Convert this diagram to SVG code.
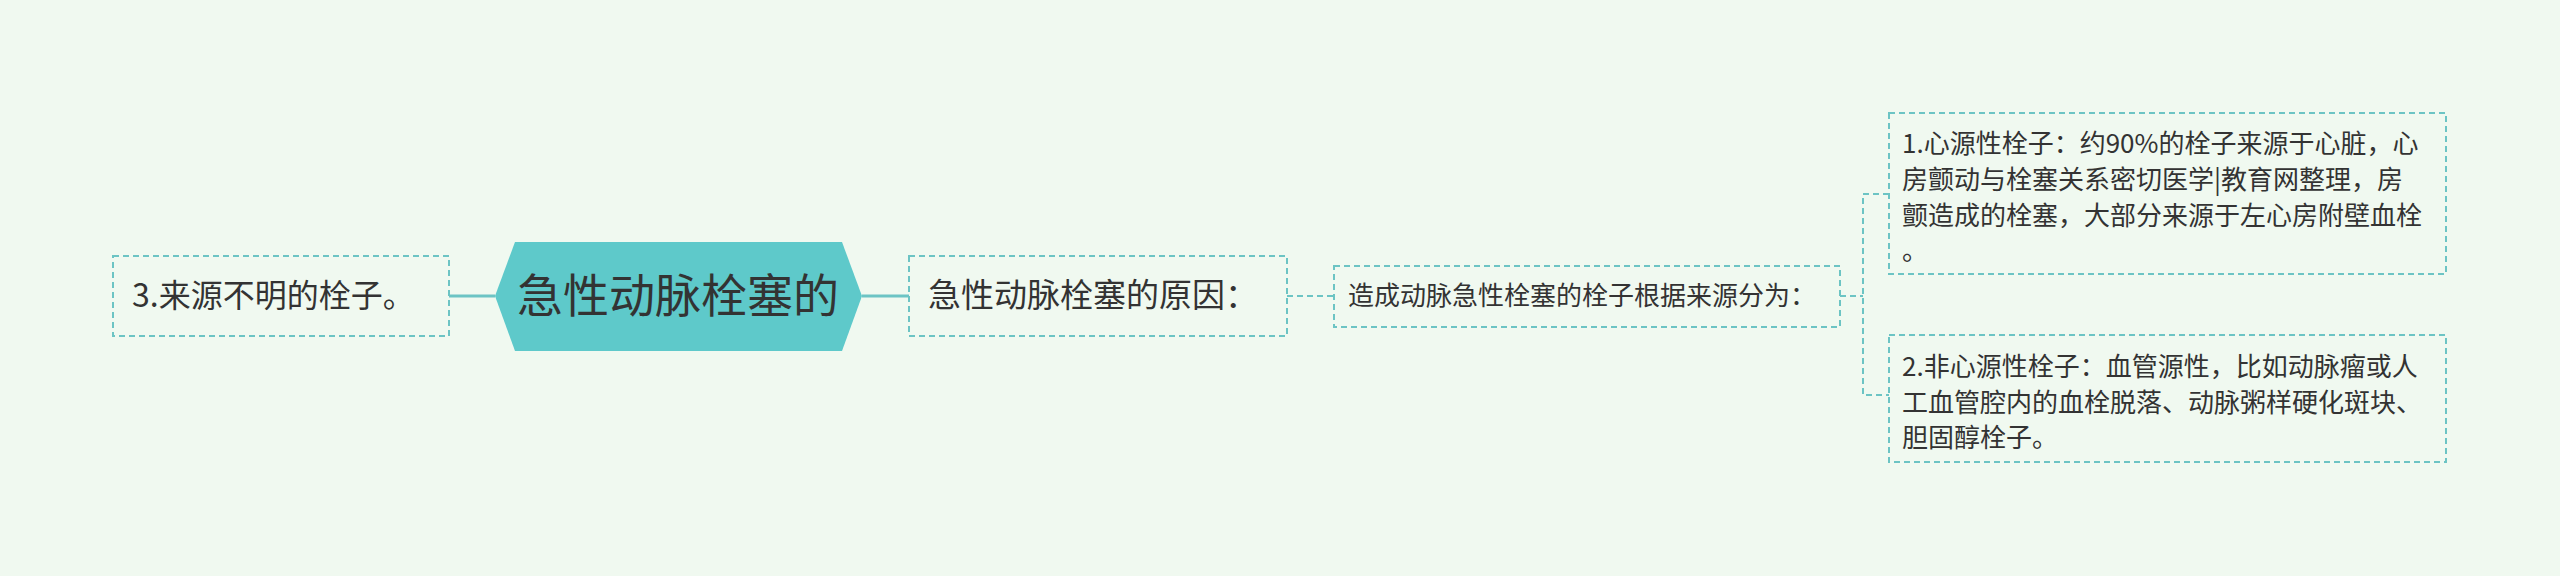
<svg xmlns="http://www.w3.org/2000/svg" width="2560" height="576" viewBox="0 0 2560 576">
<style>
.bx{fill:none;stroke:#6cc4c4;stroke-width:2;stroke-dasharray:6,4}
.t{font-family:"Noto Sans CJK SC","Noto Sans",sans-serif;fill:#333}
.c{fill:none;stroke:#6cc4c4;stroke-width:3}
.cd{fill:none;stroke:#6cc4c4;stroke-width:2;stroke-dasharray:6,4}
</style>
<rect width="2560" height="576" fill="#f0f9f0"/>
<g id="connectors">
<line class="c" x1="449" y1="296" x2="495" y2="296"/>
<line class="c" x1="862" y1="296" x2="909" y2="296"/>
<line class="cd" x1="1287" y1="296" x2="1334" y2="296"/>
<path class="cd" d="M1840 296H1863M1889 194H1863V395H1889"/>
</g>
<g id="center">
<polygon points="515,242 842,242 862,296 842,351 515,351 495,296" fill="#5ec9ca"/>
<text class="t" x="678" y="312" font-size="46" text-anchor="middle">急性动脉栓塞的</text>
</g>
<g id="left">
<rect class="bx" x="113" y="256" width="336" height="80"/>
<text class="t" x="132" y="307" font-size="32">3.来源不明的栓子。</text>
</g>
<g id="cause">
<rect class="bx" x="909" y="256" width="378" height="80"/>
<text class="t" x="928" y="307" font-size="33">急性动脉栓塞的原因：</text>
</g>
<g id="source">
<rect class="bx" x="1334" y="266" width="506" height="61"/>
<text class="t" x="1348" y="305" font-size="26">造成动脉急性栓塞的栓子根据来源分为：</text>
</g>
<g id="n1">
<rect class="bx" x="1889" y="113" width="557" height="161"/>
<text class="t" font-size="26"><tspan x="1902" y="153">1.心源性栓子：约90%的栓子来源于心脏，心</tspan><tspan x="1902" y="189">房颤动与栓塞关系密切医学|教育网整理，房</tspan><tspan x="1902" y="225">颤造成的栓塞，大部分来源于左心房附壁血栓</tspan><tspan x="1902" y="260">。</tspan></text>
</g>
<g id="n2">
<rect class="bx" x="1889" y="335" width="557" height="127"/>
<text class="t" font-size="26"><tspan x="1902" y="376">2.非心源性栓子：血管源性，比如动脉瘤或人</tspan><tspan x="1902" y="412">工血管腔内的血栓脱落、动脉粥样硬化斑块、</tspan><tspan x="1902" y="447">胆固醇栓子。</tspan></text>
</g>
</svg>
